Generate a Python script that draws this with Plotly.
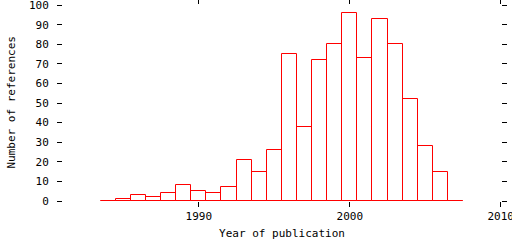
import plotly.graph_objects as go

years = list(range(1984, 2008))
counts = [0, 1, 3, 2, 4, 8, 5, 4, 7, 21, 15, 26, 75, 38, 72, 80, 96, 73, 93, 80, 52, 28, 15, 0]

x_title = "Year of publication"
y_title = "Number of references"
x_ticks = [1990, 2000, 2010]

FONT = "DejaVu Sans Mono"
RED = "#ff0000"
W, H = 512, 240
ML, MR, MT, MB = 63, 11, 5, 39

fig = go.Figure()
fig.add_trace(go.Bar(
    x=years, y=counts, width=1,
    marker=dict(color="rgba(0,0,0,0)", line=dict(color=RED, width=1)),
    showlegend=False, hoverinfo="skip",
))
fig.add_trace(go.Scatter(
    x=[min(years) - 0.5, max(years) + 0.5], y=[0, 0], mode="lines",
    line=dict(color=RED, width=1), showlegend=False, hoverinfo="skip",
))

fig.update_layout(
    width=W, height=H,
    margin=dict(l=ML, r=MR, t=MT, b=MB),
    paper_bgcolor="white", plot_bgcolor="white",
    font=dict(family=FONT, size=11, color="black"),
    bargap=0,
    xaxis=dict(
        range=[1981, 2010.02], tickvals=x_ticks, ticktext=[str(v) for v in x_ticks],
        showgrid=False, zeroline=False, showline=False, automargin=False,
        ticks="outside", ticklen=5, tickwidth=1, tickcolor="black", mirror="ticks",
        title=dict(text=x_title, font=dict(size=11)),
        tickfont=dict(size=11), ticklabeloverflow="allow",
    ),
    yaxis=dict(
        range=[0, 100.05], dtick=10, tick0=0,
        showgrid=False, zeroline=False, showline=False, automargin=False,
        ticks="outside", ticklen=5, tickwidth=1, tickcolor="black", mirror="ticks",
        tickfont=dict(size=11), ticklabelstandoff=6, ticklabeloverflow="allow",
    ),
    annotations=[dict(
        text=y_title, textangle=-90, showarrow=False,
        xref="paper", yref="paper",
        x=(10.5 - ML) / (W - ML - MR), y=0.5,
        xanchor="center", yanchor="middle",
        font=dict(size=11),
    )],
)

fig.write_html("out.html")
